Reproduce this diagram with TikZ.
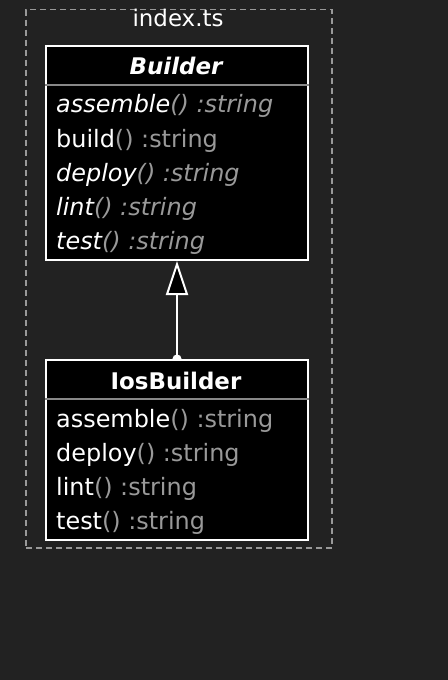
\documentclass[tikz,border=0pt]{standalone}
\usepackage{fontspec}
\setmainfont{DejaVu Sans}[ItalicFont={DejaVu Sans Oblique}, BoldItalicFont={DejaVu Sans Bold Oblique}]
\usepackage{tikz}
\usetikzlibrary{arrows.meta,backgrounds,positioning}
\definecolor{bgdark}{HTML}{222222}
\definecolor{mutedgray}{HTML}{999999}
\definecolor{rulegray}{HTML}{888888}

\begin{document}
\begin{tikzpicture}[x=1bp, y=-1bp,
    classbox/.style={rectangle, draw=white, fill=black, line width=2bp, minimum width=262bp, inner sep=0pt, anchor=north west},
    header/.style={text=white, font=\fontsize{23}{23}\selectfont\bfseries, anchor=base, inner sep=0pt},
    member/.style={text=white, font=\fontsize{24}{24}\selectfont, anchor=base west, inner sep=0pt},
    separator/.style={draw=rulegray, line width=2bp}]
    \begin{scope}[on background layer]
        \fill[bgdark] (0,0) rectangle (448,680);
    \end{scope}

    \node (module) [draw=mutedgray, dash pattern=on 6bp off 4bp, line width=1.5bp, minimum width=306bp, minimum height=538bp, anchor=north west, inner sep=0pt] at (25,9) {};
    \node (module title) [text=white, font=\fontsize{23}{23}\selectfont, anchor=base] at (178,27) {index.ts};

    % abstract class
    \node (builder) [classbox, minimum height=214bp] at (45,45) {};
    \node (builder title) [header] at (176,75) {\itshape Builder};
    \draw[separator] ([yshift=-40bp]builder.north west) -- ([yshift=-40bp]builder.north east);
    \foreach \m/\sh [count=\i] in {assemble/\itshape, build/\upshape, deploy/\itshape, lint/\itshape, test/\itshape}
        \node (builder m\i) [member] at (56, 79+34*\i) {\sh\m\textcolor{mutedgray}{() :string}};

    % subclass
    \node (ios) [classbox, minimum height=180bp] at (45,359) {};
    \node (ios title) [header] at (176,389) {IosBuilder};
    \draw[separator] ([yshift=-40bp]ios.north west) -- ([yshift=-40bp]ios.north east);
    \foreach \m [count=\i] in {assemble, deploy, lint, test}
        \node (ios m\i) [member] at (56, 393+34*\i) {\m\textcolor{mutedgray}{() :string}};

    \begin{scope}[on background layer]
        \draw[white, line width=2bp, {Circle[length=9bp]}-{Triangle[length=34bp, width=22bp, fill=black]}] ([yshift=-4.5bp]ios.north) -- (builder.south);
    \end{scope}
\end{tikzpicture}
\end{document}
